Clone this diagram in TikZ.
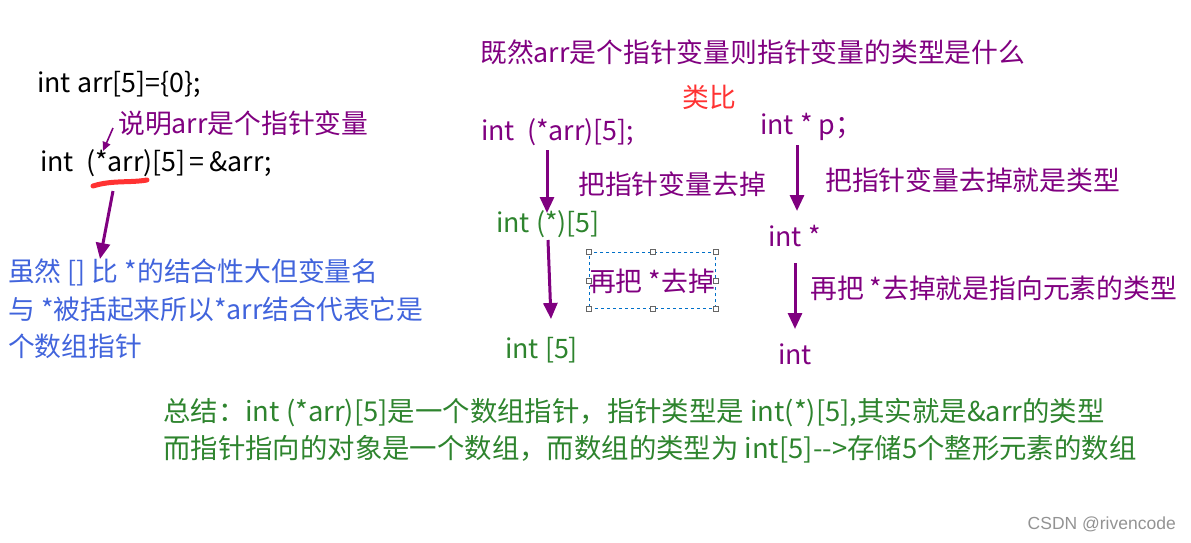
\documentclass[tikz,border=0pt]{standalone}
\usepackage{fontspec}
\setmainfont{Noto Sans CJK SC}
\newfontfamily\wmfont{Liberation Sans}
\usetikzlibrary{arrows.meta}
\definecolor{pur}{RGB}{128,0,128}
\definecolor{grn}{RGB}{46,132,46}
\definecolor{blu}{RGB}{65,100,220}
\definecolor{rd}{RGB}{255,50,50}
\definecolor{selb}{RGB}{0,112,200}
\tikzset{
  txt/.style={anchor=west,inner sep=0pt,font=\fontsize{26.8}{30}\selectfont},
  parr/.style={draw=pur,line width=3pt,-{Triangle[length=16pt,width=14pt]}},
  thinarr/.style={draw=pur,line width=1.6pt,-{Triangle[length=9pt,width=8pt]}},
  handle/.style={draw=gray!80!black,fill=white,line width=0.8pt,minimum size=5pt,inner sep=0pt,rectangle}
}
\begin{document}
\begin{tikzpicture}[x=1pt,y=-1pt]
\useasboundingbox (0,0) rectangle (1191,543);
% left column
\node[txt] (l1) at (37,84) {int arr[5]=\{0\};};
\node[txt,text=pur] (l2) at (118,123) {说明arr是个指针变量};
\node[txt] (l3) at (40,163) {int\ \ (*arr)[5]\,=\,\&arr;};
\draw[rd,line width=5pt,line cap=round] (93,186) .. controls (112,180) and (130,183) .. (147,180);
\coordinate (l2s) at (113,128);
\coordinate (star) at (103,151);
\draw[thinarr] (l2s) -- (star);
\coordinate (ulmid) at (113,191);
\coordinate (blt) at (100,259);
\node[txt,text=blu,align=left,anchor=north west,font=\fontsize{26.8}{37.5}\selectfont] (bl) at (8,259) {虽然 [] 比 *的结合性大但变量名\\与 *被括起来所以*arr结合代表它是\\个数组指针};
\draw[parr] (ulmid) -- (blt);
% right part
\node[txt,text=pur] (hd) at (480,52) {既然arr是个指针变量则指针变量的类型是什么};
\node[txt,text=rd] (lb) at (682,97) {类比};
\node[txt,text=pur] (a1) at (481,132) {int\ \ (*arr)[5];};
\node[txt,text=pur] (b1) at (760,127) {int * p；};
\node[txt,text=pur] (a1t) at (578,184) {把指针变量去掉};
\node[txt,text=pur] (b1t) at (825,180) {把指针变量去掉就是类型};
\node[txt,text=grn] (a2) at (496,224) {int (*)[5]};
\node[txt,text=pur] (b2) at (768,236) {int *};
\node[txt,text=grn] (a3) at (505,350) {int [5]};
\node[txt,text=pur] (b3) at (778,354) {int};
\node[txt,text=pur] (b2t) at (810,288) {再把 *去掉就是指向元素的类型};
% selected box
\node[draw=selb,dashed,line width=0.8pt,minimum width=126pt,minimum height=56pt,inner sep=0pt,anchor=north west] (sel) at (589,252) {};
\node[txt,text=pur,anchor=center] (a2t) at (652,281) {再把 *去掉};
\foreach \a in {north west,north,north east,west,east,south west,south,south east}
  \node[handle] at (sel.\a) {};
% arrow end points
\coordinate (a1s) at (547,150);
\coordinate (a2n) at (547,213);
\coordinate (b1s) at (797,145);
\coordinate (b2n) at (797,211);
\coordinate (a2s) at (548,240);
\coordinate (a3n) at (551,319);
\coordinate (b2s) at (795,263);
\coordinate (b3n) at (795,329);
\draw[parr] (a1s) -- (a2n);
\draw[parr] (b1s) -- (b2n);
\draw[parr] (a2s) -- (a3n);
\draw[parr] (b2s) -- (b3n);
% summary
\node[txt,text=grn,align=left,anchor=north west,font=\fontsize{27.4}{37}\selectfont] (sum) at (163,398) {总结：int (*arr)[5]是一个数组指针，指针类型是 int(*)[5],其实就是\&arr的类型\\而指针指向的对象是一个数组，而数组的类型为 int[5]-{}->存储5个整形元素的数组};
% watermark
\node[anchor=east,inner sep=0pt,text=gray!85,font=\wmfont\fontsize{17.5}{20}\selectfont] (wm) at (1176,524) {CSDN @rivencode};
\end{tikzpicture}
\end{document}
